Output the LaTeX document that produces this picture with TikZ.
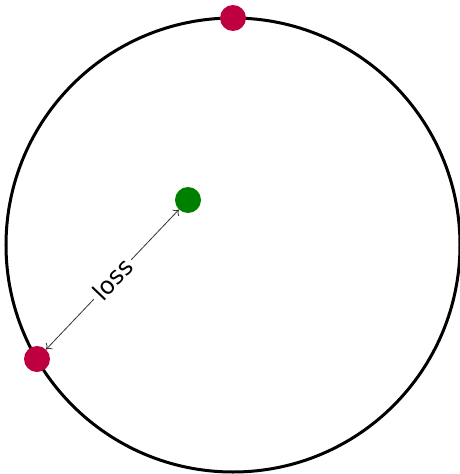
\documentclass[tikz,border=0pt]{standalone}
\usepackage{fontspec}
\setmainfont{DejaVu Sans}
\usetikzlibrary{arrows.meta}
\begin{document}
\begin{tikzpicture}[x=1pt,y=-1pt,
  dot/.style={circle,inner sep=0pt,minimum size=26pt},
  lossarrow/.style={{To[length=5pt,width=9pt]}-{To[length=5pt,width=9pt]},line width=0.8pt,black!80},
  lbl/.style={fill=white,text=black,sloped,font=\fontsize{24}{28}\selectfont,inner sep=4pt}]
\useasboundingbox (0,0) rectangle (460,474);
\node[circle,draw,line width=3pt,minimum size=454pt,inner sep=0pt] (ring) at (233,245) {};
\node[dot,fill={rgb,255:red,190;green,0;blue,64}] (top) at (233,18) {};
\node[dot,fill={rgb,255:red,190;green,0;blue,64}] (left) at (37,359) {};
\node[dot,fill={rgb,255:red,0;green,128;blue,0}] (g) at (188,200) {};
\draw[lossarrow] (g) -- node[lbl] {loss} (left);
\end{tikzpicture}
\end{document}
